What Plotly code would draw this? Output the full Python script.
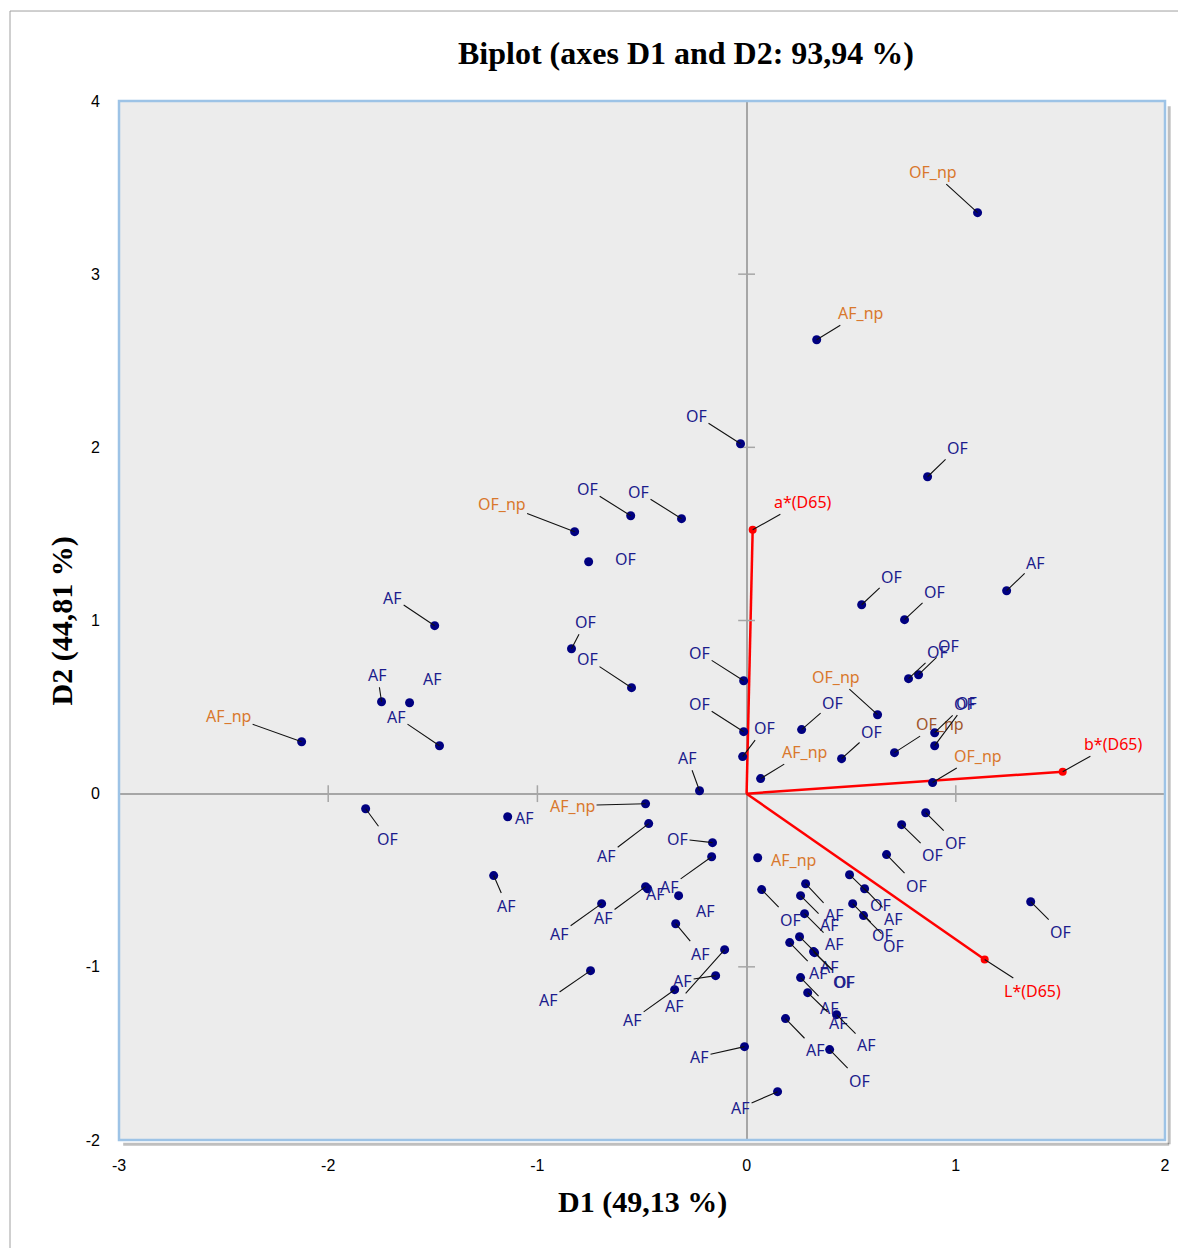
import plotly.graph_objects as go

# observations (D1, D2) with their class label
obs_x = [1.104, 0.335, -0.029, 0.865, -0.822, -0.554, -0.311, -0.755, -1.491, -1.745,
         -1.611, -1.468, -2.127, -0.837, -0.550, -0.014, -0.014, -0.019, -0.225, 0.067,
         0.550, 0.755, 1.243, 0.774, 0.822, 0.626, 0.263, 0.454, 0.707, 0.899,
         0.899, 0.889, 0.856, 0.741, 0.669, 0.053, 0.492, 0.072, 0.282, 0.258,
         0.564, 0.507, 0.559, 0.277, 0.253, 0.206, 0.320, 0.325, 0.258, 0.292,
         0.430, 0.186, 0.397, 0.148, -0.010, -0.483, -0.468, -0.163, -0.167, -0.483,
         -0.473, -0.325, -0.693, -0.339, -0.105, -0.148, -0.344, -0.746, -1.821, -1.142,
         -1.209, 1.358]
obs_y = [3.355, 2.621, 2.021, 1.830, 1.513, 1.605, 1.588, 1.339, 0.970, 0.531,
         0.525, 0.277, 0.300, 0.837, 0.612, 0.652, 0.358, 0.214, 0.017, 0.087,
         1.091, 1.005, 1.172, 0.664, 0.687, 0.456, 0.370, 0.202, 0.237, 0.352,
         0.277, 0.064, -0.110, -0.179, -0.352, -0.370, -0.468, -0.554, -0.520, -0.589,
         -0.549, -0.635, -0.704, -0.693, -0.826, -0.860, -0.912, -0.918, -1.062, -1.149,
         -1.276, -1.299, -1.478, -1.721, -1.461, -0.058, -0.173, -0.283, -0.364, -0.537,
         -0.549, -0.589, -0.635, -0.751, -0.901, -1.051, -1.132, -1.022, -0.087, -0.133,
         -0.473, -0.624]
obs_lab = ["OF_np", "AF_np", "OF", "OF", "OF_np", "OF", "OF", "OF", "AF", "AF",
           "AF", "AF", "AF_np", "OF", "OF", "OF", "OF", "OF", "AF", "AF_np",
           "OF", "OF", "AF", "OF", "OF", "OF_np", "OF", "OF", "OF_np", "OF",
           "OF", "OF_np", "OF", "OF", "OF", "AF_np", "OF", "OF", "AF", "AF",
           "AF", "OF", "OF", "AF", "AF", "AF", "OF", "OF", "AF", "AF",
           "AF", "AF", "OF", "AF", "AF", "AF_np", "AF", "OF", "AF", "AF",
           "AF", "AF", "AF", "AF", "AF", "AF", "AF", "AF", "OF", "AF",
           "AF", "OF"]

# variables (loadings)
var_names = ["a*(D65)", "b*(D65)", "L*(D65)"]
var_x = [0.029, 1.511, 1.138]
var_y = [1.524, 0.127, -0.958]

x_ticks = [-3, -2, -1, 0, 1, 2]
y_ticks = [-2, -1, 0, 1, 2, 3, 4]

# label placement (pixel offsets from the point), like XLSTAT's leader lines
lab_dx = [-45, 44, -44, 30, -73, -43, -43, 37, -42, -4,
          23, -43, -73, 14, -44, -44, -44, 22, -12, 44,
          30, 30, 29, 29, 30, -42, 31, 30, 45, 30,
          32, 45, 30, 31, 30, 36, 31, 29, 29, 29,
          29, 30, 30, 30, 30, 29, 30, 30, 29, 31,
          30, 30, 30, -37, -45, -73, -42, -35, -42, -42,
          8, 27, -42, 25, -50, -33, -42, -42, 22, 17,
          13, 30]
lab_dy = [-41, -27, -28, -29, -28, -27, -27, -3, -28, -27,
          -24, -29, -26, -27, -29, -28, -28, -29, -33, -27,
          -28, -28, -28, -27, -29, -38, -27, -27, -29, -29,
          -43, -27, 30, 30, 31, 2, 30, 30, 31, 29,
          30, 31, 30, 30, 30, 30, 30, 29, 30, 30,
          30, 31, 31, 16, 10, 2, 32, -4, 30, 31,
          5, 15, 30, 30, 56, 5, 30, 29, 30, 1,
          30, 30]
no_line = {7, 10, 35, 60, 61, 69}
var_dx = [50, 50, 48]
var_dy = [-28, -28, 31]

NAVY = "#000080"
BLUE_TXT = "#1c1c8c"
ORANGE_TXT = "#d9782d"
RED = "#ff0000"

fig = go.Figure()

# biplot vectors from origin
vx, vy = [], []
for x, y in zip(var_x, var_y):
    vx += [0, x, None]
    vy += [0, y, None]
fig.add_trace(go.Scatter(x=vx, y=vy, mode="lines", line=dict(color=RED, width=2.5),
                         hoverinfo="skip"))
fig.add_trace(go.Scatter(x=var_x, y=var_y, mode="markers",
                         marker=dict(color=RED, size=8), text=var_names))

# tick crosses on the central axes
fig.add_trace(go.Scatter(x=[t for t in x_ticks if t != 0], y=[0] * (len(x_ticks) - 1),
                         mode="markers", hoverinfo="skip",
                         marker=dict(symbol="line-ns", size=12,
                                     line=dict(color="#a6a6a6", width=1.5))))
fig.add_trace(go.Scatter(x=[0] * (len(y_ticks) - 1), y=[t for t in y_ticks if t != 0],
                         mode="markers", hoverinfo="skip",
                         marker=dict(symbol="line-ew", size=12,
                                     line=dict(color="#a6a6a6", width=1.5))))

fig.add_trace(go.Scatter(x=obs_x, y=obs_y, mode="markers", text=obs_lab,
                         marker=dict(color=NAVY, size=9)))

annots = []
for i, (x, y, lab) in enumerate(zip(obs_x, obs_y, obs_lab)):
    col = ORANGE_TXT if lab.endswith("_np") else BLUE_TXT
    if i == 28:
        col = "#a0562c"
    annots.append(dict(
        x=x, y=y, text=lab, ax=lab_dx[i], ay=lab_dy[i],
        showarrow=True, arrowhead=0, standoff=0, arrowwidth=1.1,
        arrowcolor="rgba(0,0,0,0)" if i in no_line else "#111111",
        font=dict(family="Noto Sans", size=16, color=col),
    ))
for i, (x, y, lab) in enumerate(zip(var_x, var_y, var_names)):
    annots.append(dict(
        x=x, y=y, text=lab, ax=var_dx[i], ay=var_dy[i],
        showarrow=True, arrowhead=0, standoff=0, arrowwidth=1.1, arrowcolor="#111111",
        font=dict(family="Noto Sans", size=16, color=RED),
    ))

# axis titles
annots.append(dict(xref="paper", yref="paper", x=0.5, y=-0.0597, yanchor="middle",
                   text="<b>D1 (49,13 %)</b>", showarrow=False,
                   font=dict(family="Liberation Serif", size=30, color="black")))
annots.append(dict(xref="paper", yref="paper", x=-0.0545, y=0.5, xanchor="center",
                   text="<b>D2 (44,81 %)</b>", showarrow=False, textangle=-90,
                   font=dict(family="Liberation Serif", size=30, color="black")))

shapes = [
    # outer chart frame
    dict(type="rect", xref="paper", yref="paper", x0=-0.1042, x1=1.03, y0=-0.12, y1=1.0866,
         line=dict(color="#a0a0a0", width=1), layer="below"),
    # shadow of plot area
    dict(type="line", xref="paper", yref="paper", x0=0.004, x1=1.004, y0=-0.004, y1=-0.004,
         line=dict(color="rgba(0,0,0,0.25)", width=3)),
    dict(type="line", xref="paper", yref="paper", x0=1.004, x1=1.004, y0=-0.004, y1=0.995,
         line=dict(color="rgba(0,0,0,0.25)", width=3)),
    # plot area border
    dict(type="rect", xref="paper", yref="paper", x0=0, x1=1, y0=0, y1=1,
         line=dict(color="#9dc3e6", width=2.5)),
]

# the page adds an 8px body margin, so the figure is 8px smaller and the
# left/top margins are 8px tighter
fig.update_layout(
    width=1178, height=1240,
    margin=dict(l=111, r=21, t=93, b=108),
    paper_bgcolor="white", plot_bgcolor="#ececec",
    showlegend=False,
    title=dict(text="<b>Biplot (axes D1 and D2: 93,94 %)</b>", x=678 / 1178, xref="container",
               xanchor="center", y=1 - 45 / 1240, yref="container", yanchor="middle",
               font=dict(family="Liberation Serif", size=32, color="black")),
    annotations=annots,
    shapes=shapes,
)
fig.update_xaxes(range=[-3, 2], tickvals=x_ticks, ticktext=[str(t) for t in x_ticks],
                 showgrid=False, zeroline=True,
                 zerolinecolor="#a6a6a6", zerolinewidth=2, showline=False, ticks="",
                 ticklabelstandoff=14,
                 tickfont=dict(family="Liberation Sans Narrow, Liberation Sans", size=16, color="black"))
fig.update_yaxes(range=[-2, 4], tickvals=y_ticks, ticktext=[str(t) for t in y_ticks],
                 showgrid=False, zeroline=True,
                 zerolinecolor="#a6a6a6", zerolinewidth=2, showline=False, ticks="",
                 ticklabelstandoff=18,
                 tickfont=dict(family="Liberation Sans Narrow, Liberation Sans", size=16, color="black"))

fig.write_html("out.html")
